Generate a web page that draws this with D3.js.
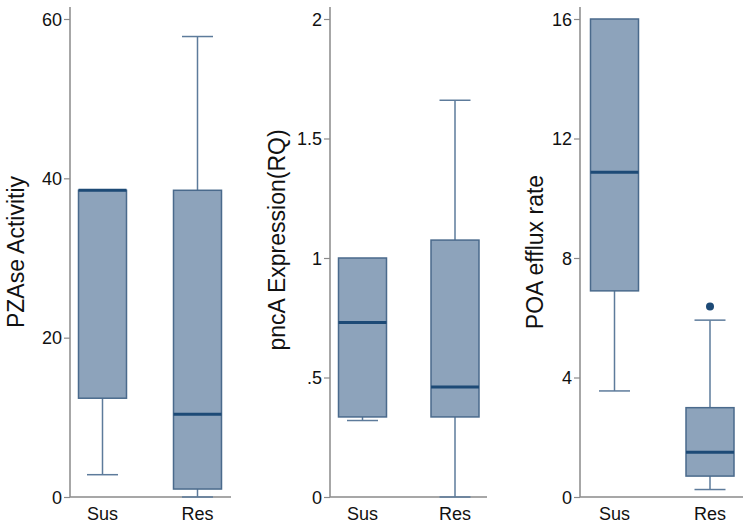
<!DOCTYPE html>
<html><head><meta charset="utf-8">
<script src="https://cdn.jsdelivr.net/npm/d3@7"></script>
<style>html,body{margin:0;padding:0;background:#fff;}svg{display:block;}</style>
</head><body><svg id="c" width="750" height="526"></svg>
<script>
// ---- data ----
const groups = ["Sus", "Res"];
// five-number summaries per group: [lower whisker, Q1, median, Q3, upper whisker]
const pzaseStats = [[2.8, 12.4, 38.5, 38.5, 38.5], [0, 1.0, 10.4, 38.5, 57.8]];
const pncaStats  = [[0.32, 0.335, 0.73, 1.0, 1.0], [0, 0.335, 0.46, 1.075, 1.66]];
const poaStats   = [[3.55, 6.9, 10.87, 16, 16], [0.25, 0.7, 1.5, 2.99, 5.92]];
const pzaseOutliers = [[], []];
const pncaOutliers  = [[], []];
const poaOutliers   = [[], [6.38]];
const pzaseTicks = [0, 20, 40, 60];
const pncaTicks  = [0, 0.5, 1, 1.5, 2];
const pncaTickLabels = ["0", ".5", "1", "1.5", "2"];
const poaTicks   = [0, 4, 8, 12, 16];
const titles = ["PZAse Activitiy", "pncA Expression(RQ)", "POA efflux rate"];

// ---- layout ----
const svg = d3.select("#c");
const yBottom = 497, yTop = 19, axisTop = 7;
const panels = [
  {stats: pzaseStats, out: pzaseOutliers, ticks: pzaseTicks, labels: pzaseTicks.map(String), max: 60,
   axisX: 70, xEnd: 231, c: [102.5, 197.5], title: titles[0], tx: 24, ty: 252},
  {stats: pncaStats, out: pncaOutliers, ticks: pncaTicks, labels: pncaTickLabels, max: 2,
   axisX: 330, xEnd: 487, c: [362.5, 455], title: titles[1], tx: 285, ty: 240},
  {stats: poaStats, out: poaOutliers, ticks: poaTicks, labels: poaTicks.map(String), max: 16,
   axisX: 580, xEnd: 743, c: [614.5, 710], title: titles[2], tx: 543, ty: 252}
];
const boxW = 48, capW = 31;
const fillC = "#8da3bb", strokeC = "#4a6a8c", medC = "#1d4a76", whiskC = "#5d7b9b", axisC = "#8a8a8a";

panels.forEach(p => {
  const y = d3.scaleLinear().domain([0, p.max]).range([yBottom, yTop]);
  const x = d3.scalePoint().domain(groups).range(p.c);
  const g = svg.append("g");

  // axes
  g.append("line").attr("x1", p.axisX).attr("x2", p.axisX).attr("y1", axisTop).attr("y2", yBottom)
    .attr("stroke", axisC).attr("stroke-width", 1.5);
  g.append("line").attr("x1", p.axisX).attr("x2", p.xEnd).attr("y1", yBottom).attr("y2", yBottom)
    .attr("stroke", axisC).attr("stroke-width", 1.5);
  const yAxis = d3.axisLeft(y).tickValues(p.ticks).tickFormat((d, i) => p.labels[i]).tickSize(6).tickPadding(2);
  const ya = g.append("g").attr("transform", `translate(${p.axisX},0)`).call(yAxis);
  ya.select(".domain").remove();
  ya.selectAll(".tick line").attr("stroke", axisC).attr("stroke-width", 1.2);
  ya.selectAll(".tick text").attr("font-family", "Liberation Sans, Arial, sans-serif")
    .attr("font-size", 18).attr("fill", "#111").attr("dy", "0.34em");

  // x labels
  g.selectAll(".xl").data(groups).enter().append("text")
    .attr("x", d => x(d)).attr("y", 520).attr("text-anchor", "middle")
    .attr("font-family", "Liberation Sans, Arial, sans-serif").attr("font-size", 18).attr("fill", "#111")
    .text(d => d);

  // y title
  g.append("text").attr("transform", `translate(${p.tx},${p.ty}) rotate(-90)`)
    .attr("text-anchor", "middle").attr("font-family", "Liberation Sans, Arial, sans-serif")
    .attr("font-size", 23).attr("fill", "#111").text(p.title);

  // boxes
  groups.forEach((grp, i) => {
    const s = p.stats[i];
    const cx = x(grp);
    // whiskers
    if (s[0] < s[1]) {
      g.append("line").attr("x1", cx).attr("x2", cx).attr("y1", y(s[1])).attr("y2", y(s[0]))
        .attr("stroke", whiskC).attr("stroke-width", 1.5);
      g.append("line").attr("x1", cx - capW / 2).attr("x2", cx + capW / 2).attr("y1", y(s[0])).attr("y2", y(s[0]))
        .attr("stroke", whiskC).attr("stroke-width", 1.5);
    }
    if (s[4] > s[3]) {
      g.append("line").attr("x1", cx).attr("x2", cx).attr("y1", y(s[3])).attr("y2", y(s[4]))
        .attr("stroke", whiskC).attr("stroke-width", 1.5);
      g.append("line").attr("x1", cx - capW / 2).attr("x2", cx + capW / 2).attr("y1", y(s[4])).attr("y2", y(s[4]))
        .attr("stroke", whiskC).attr("stroke-width", 1.5);
    }
    g.append("rect").attr("x", cx - boxW / 2).attr("width", boxW)
      .attr("y", y(s[3])).attr("height", y(s[1]) - y(s[3]))
      .attr("fill", fillC).attr("stroke", strokeC).attr("stroke-width", 1.5);
    g.append("line").attr("x1", cx - boxW / 2).attr("x2", cx + boxW / 2).attr("y1", y(s[2])).attr("y2", y(s[2]))
      .attr("stroke", medC).attr("stroke-width", 3);
    p.out[i].forEach(v => {
      g.append("circle").attr("cx", cx).attr("cy", y(v)).attr("r", 4).attr("fill", medC);
    });
  });
});
</script></body></html>
